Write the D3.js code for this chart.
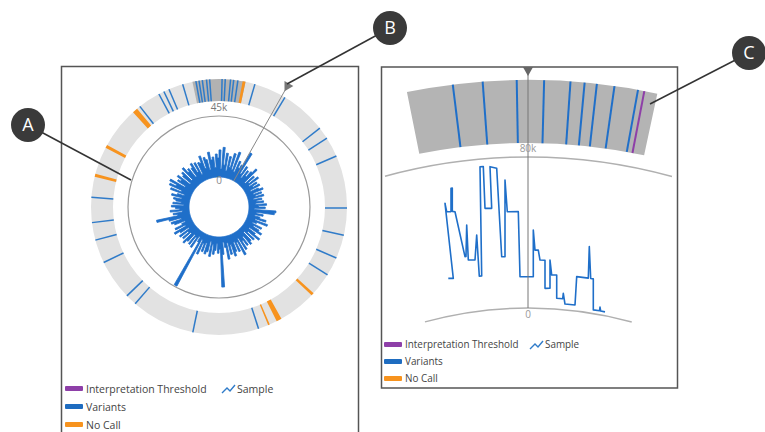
<!DOCTYPE html>
<html>
<head>
<meta charset="utf-8">
<script src="https://cdn.jsdelivr.net/npm/d3@7"></script>
<style>
  body { margin: 0; background: #fff; }
  svg { font-family: "Open Sans", sans-serif; }
</style>
</head>
<body>
<svg id="chart" width="765" height="432"></svg>
<script>
// circular (whole genome) view
const genomeLength = 16569;
const coverage = [
  20, 6, 22, 9, 18, 5, 16, 8, 19, 7,
  21, 6, 15, 10, 13, 24, 7, 14, 5, 12,
  8, 13, 17, 4, 12, 6, 14, 5, 11, 7,
  12, 4, 10, 13, 5, 11, 6, 12, 4, 10,
  6, 11, 5, 13, 7, 12, 4, 20, 19, 6,
  11, 5, 9, 14, 6, 16, 8, 5, 13, 7,
  12, 15, 5, 11, 16, 6, 13, 4, 12, 14,
  6, 13, 8, 15, 5, 18, 7, 14, 6, 13,
  16, 7, 14, 5, 17, 8, 4, 13, 37, 9,
  12, 5, 10, 13, 6, 15, 4, 12, 14, 6,
  13, 7, 16, 5, 44, 8, 4, 14, 6, 13,
  5, 12, 15, 6, 13, 7, 14, 5, 12, 16,
  6, 14, 8, 5, 13, 15, 7, 16, 25, 9,
  12, 5, 14, 7, 10, 13, 4, 12, 6, 10,
  12, 6, 14, 10, 5, 16, 8, 18, 13, 19,
  7, 14, 12, 16, 5, 13, 15, 6, 17, 12,
  14, 6, 13, 16, 8, 15, 5, 14, 13, 18,
  8, 16, 14, 6, 19, 13, 15, 7, 17, 14
];
const variantPos = [
  64, 129, 239, 304, 391, 750, 1427, 2393, 2646, 3061, 4165, 4731, 5224,
  5615, 7456, 8828, 10167, 10402, 11244, 11736, 12104, 12629, 14811,
  15280, 15395, 15510, 15810, 16090, 16155, 16224, 16311, 16376
];
const noCallPos = [520, 6121, 6996, 7226, 13089, 13729, 14682];
const noCallLen = [60, 60, 110, 35, 65, 65, 110];
const zoomRegion = [16017, 552];
const cursorPos = 1358;
const circleMax = 45;
const circleLabels = ["0", "45k"];

// zoomed view (positions in window units)
const zoomRing = [-34.8, 202.6];
const zoomAxisSpan = [-63, 224];
const zoomVariantPos = [8.7, 37, 69.3, 95.3, 120.3, 133.7, 145.3, 162, 184.3];
const zoomThresholdPos = [190.3];
const zoomCursor = 80;
const zoomMax = 80;
const zoomLabels = ["0", "80k"];
const samplePos = [
  0.3, 5.3, -3, -1.3, 3, 3, 4.3, 4.3, 7, 17, 18, 18.7, 20.3, 27, 28.7,
  31.3, 33.7, 32, 35.3, 37, 43.7, 42, 48.7, 53.7, 57, 57, 59.3, 70.3,
  72, 85.3, 85.3, 87, 90.3, 92, 97, 97, 102, 102, 103.7, 108.7, 108.7,
  114.7, 115.3, 117, 127, 128.7, 140.3, 141.3, 142.7, 145.3, 145.3,
  151.5, 152, 152.7, 157
];
const sampleVal = [
  19.7, 19.2, 59.1, 54.6, 54.3, 66.5, 66.5, 54.3, 53.9, 29.6, 29.6, 46.1, 27.6, 27.1, 40.2,
  18.4, 18.3, 76, 75.9, 53.8, 53.5, 75.6, 74.5, 27.6, 27.5, 68.1, 51.2, 51.1,
  16.6, 16.6, 41.3, 30.7, 30.7, 25.5, 25.5, 10.6, 10.8, 25.7, 17.8, 18, 5.7,
  5.7, 8.6, 3, 3.1, 18.1, 18.1, 34.7, 18.1, 18.1, 1.9,
  2, 4, 2, 2
];

const legendItems = ["Interpretation Threshold", "Variants", "No Call"];
const legendColors = ["#8e3fa8", "#1e6cc0", "#f7931e"];

const TAU = 2 * Math.PI;
const deg = Math.PI / 180;
const svg = d3.select("#chart");

// ---------- panel frames ----------
svg.append("rect")
  .attr("x", 61.5).attr("y", 66.5).attr("width", 297).attr("height", 380)
  .attr("fill", "none").attr("stroke", "#555").attr("stroke-width", 1.5);
svg.append("rect")
  .attr("x", 381.5).attr("y", 67).attr("width", 296).attr("height", 321)
  .attr("fill", "none").attr("stroke", "#555").attr("stroke-width", 1.5);

// ---------- left: circular view ----------
const left = svg.append("g").attr("transform", "translate(219,207)");
const angle = d3.scaleLinear().domain([0, genomeLength]).range([0, TAU]);
const radius = d3.scaleLinear().domain([0, circleMax]).range([30, 91]);
const ringIn = 106, ringOut = 128;

left.append("path")
  .attr("d", d3.arc()({ innerRadius: ringIn, outerRadius: ringOut, startAngle: 0, endAngle: TAU }))
  .attr("fill", "#e2e2e2");
left.append("path")
  .attr("d", d3.arc()({
    innerRadius: ringIn, outerRadius: ringOut,
    startAngle: angle(zoomRegion[0]) - TAU, endAngle: angle(zoomRegion[1])
  }))
  .attr("fill", "#b2b2b2");

left.selectAll(".variant")
  .data(variantPos)
  .enter()
  .append("line")
  .attr("class", "variant")
  .attr("x1", (d) => d3.pointRadial(angle(d), ringIn)[0])
  .attr("y1", (d) => d3.pointRadial(angle(d), ringIn)[1])
  .attr("x2", (d) => d3.pointRadial(angle(d), ringOut)[0])
  .attr("y2", (d) => d3.pointRadial(angle(d), ringOut)[1])
  .attr("stroke", "#2f7bc9")
  .attr("stroke-width", 1.5);

left.selectAll(".nocall")
  .data(noCallPos)
  .enter()
  .append("path")
  .attr("class", "nocall")
  .attr("d", (d, i) => d3.arc()({
    innerRadius: ringIn, outerRadius: ringOut,
    startAngle: angle(d - noCallLen[i] / 2), endAngle: angle(d + noCallLen[i] / 2)
  }))
  .attr("fill", "#f7931e");

left.append("circle")
  .attr("r", radius(circleMax))
  .attr("fill", "none")
  .attr("stroke", "#9a9a9a")
  .attr("stroke-width", 1.2);

// coverage as a stepped radial area from the zero circle
const bin = genomeLength / coverage.length;
const covPoints = [];
coverage.forEach((v, i) => {
  covPoints.push([angle(i * bin), v]);
  covPoints.push([angle((i + 1) * bin), v]);
});
left.append("path")
  .attr("d", d3.areaRadial()
    .angle((d) => d[0])
    .innerRadius(radius(0))
    .outerRadius((d) => radius(d[1]))
    .curve(d3.curveLinearClosed)(covPoints))
  .attr("fill", "#1f6fc9")
  .attr("stroke", "#1f6fc9")
  .attr("stroke-width", 0.8)
  .attr("stroke-linejoin", "round");

const ca = angle(cursorPos);
left.append("line")
  .attr("x1", d3.pointRadial(ca, radius(0))[0])
  .attr("y1", d3.pointRadial(ca, radius(0))[1])
  .attr("x2", d3.pointRadial(ca, 136)[0])
  .attr("y2", d3.pointRadial(ca, 136)[1])
  .attr("stroke", "#888")
  .attr("stroke-width", 1);
left.append("path")
  .attr("d", d3.symbol(d3.symbolTriangle, 45)())
  .attr("transform", "translate(" + d3.pointRadial(ca, 139) + ") rotate(" + (ca / deg + 180) + ")")
  .attr("fill", "#777");

left.append("text")
  .attr("x", 0).attr("y", -radius(0) + 7)
  .attr("text-anchor", "middle").attr("font-size", 10).attr("fill", "#888")
  .text(circleLabels[0]);
left.append("text")
  .attr("x", 0).attr("y", -radius(circleMax) - 5)
  .attr("text-anchor", "middle").attr("font-size", 10).attr("fill", "#777")
  .text(circleLabels[1]);

// ---------- right: zoomed view ----------
const right = svg.append("g").attr("transform", "translate(528,697)");
const zX = d3.scaleLinear().domain([0, 160]).range([-80, 80]);
const zRadius = d3.scaleLinear().domain([0, zoomMax]).range([389, 540]);
const zIn = 554, zOut = 617, zMid = 585;
const zAngle = (p) => Math.asin(zX(p) / zMid);
const zPoint = (p, v) => {
  const x = zX(p), r = zRadius(v);
  return [x, -Math.sqrt(r * r - x * x)];
};

right.append("path")
  .attr("d", d3.arc()({ innerRadius: zIn, outerRadius: zOut, startAngle: zAngle(zoomRing[0]), endAngle: zAngle(zoomRing[1]) }))
  .attr("fill", "#b4b4b4");

const zTick = (sel, data, color, cls) =>
  sel.selectAll("." + cls)
    .data(data)
    .enter()
    .append("line")
    .attr("class", cls)
    .attr("x1", (d) => d3.pointRadial(zAngle(d), zIn)[0])
    .attr("y1", (d) => d3.pointRadial(zAngle(d), zIn)[1])
    .attr("x2", (d) => d3.pointRadial(zAngle(d), zOut)[0])
    .attr("y2", (d) => d3.pointRadial(zAngle(d), zOut)[1])
    .attr("stroke", color)
    .attr("stroke-width", 2);
zTick(right, zoomVariantPos, "#1f6fc9", "zvariant");
zTick(right, zoomThresholdPos, "#8e3fa8", "zthreshold");

right.selectAll(".zaxis")
  .data([0, zoomMax])
  .enter()
  .append("path")
  .attr("class", "zaxis")
  .attr("d", (d) => d3.arc()({
    innerRadius: zRadius(d), outerRadius: zRadius(d),
    startAngle: Math.asin(zX(zoomAxisSpan[0]) / zRadius(zoomMax)),
    endAngle: Math.asin(zX(zoomAxisSpan[1]) / zRadius(zoomMax))
  }))
  .attr("fill", "none")
  .attr("stroke", "#b0b0b0")
  .attr("stroke-width", 1.5);

right.append("path")
  .attr("d", d3.line()(samplePos.map((p, i) => zPoint(p, sampleVal[i]))))
  .attr("fill", "none")
  .attr("stroke", "#1f6fc9")
  .attr("stroke-width", 1.6)
  .attr("stroke-linejoin", "round");

const za = zAngle(zoomCursor);
right.append("line")
  .attr("x1", d3.pointRadial(za, zRadius(0))[0])
  .attr("y1", d3.pointRadial(za, zRadius(0))[1])
  .attr("x2", d3.pointRadial(za, 624)[0])
  .attr("y2", d3.pointRadial(za, 624)[1])
  .attr("stroke", "#777")
  .attr("stroke-width", 1);
right.append("path")
  .attr("d", d3.symbol(d3.symbolTriangle, 45)())
  .attr("transform", "translate(" + d3.pointRadial(za, 627) + ") rotate(180)")
  .attr("fill", "#666");

right.append("text")
  .attr("x", 0).attr("y", -zRadius(0) + 10)
  .attr("text-anchor", "middle").attr("font-size", 10).attr("fill", "#999")
  .text(zoomLabels[0]);
right.append("text")
  .attr("x", 0).attr("y", -zRadius(zoomMax) - 5)
  .attr("text-anchor", "middle").attr("font-size", 10).attr("fill", "#999")
  .text(zoomLabels[1]);

// ---------- legends ----------
const drawLegend = (x, y, gap, sampleX, size) => {
  const g = svg.append("g").attr("transform", "translate(" + x + "," + y + ")");
  const item = g.selectAll("g")
    .data(legendItems)
    .enter()
    .append("g")
    .attr("transform", (d, i) => "translate(0," + i * gap + ")");
  item.append("rect")
    .attr("x", 0).attr("y", -3).attr("width", 18).attr("height", 5).attr("rx", 1)
    .attr("fill", (d, i) => legendColors[i]);
  item.append("text")
    .attr("x", 21).attr("y", 0).attr("dy", "0.35em")
    .attr("font-size", size).attr("fill", "#444")
    .text((d) => d);
  g.append("path")
    .attr("d", "M" + sampleX + ",4 L" + (sampleX + 5) + ",-1 L" + (sampleX + 8) + ",2 L" + (sampleX + 13) + ",-4")
    .attr("fill", "none").attr("stroke", "#2f7bc9").attr("stroke-width", 1.4);
  g.append("text")
    .attr("x", sampleX + 15).attr("y", 0).attr("dy", "0.35em")
    .attr("font-size", size).attr("fill", "#444")
    .text("Sample");
};
drawLegend(65, 389, 18, 157, 10.5);
drawLegend(384, 345, 17, 146, 9.9);

// ---------- annotations ----------
const notes = [
  { label: "A", cx: 28, cy: 125, tx: 131, ty: 180 },
  { label: "B", cx: 390, cy: 28, tx: 287, ty: 84 },
  { label: "C", cx: 749, cy: 53, tx: 650, ty: 104 }
];
svg.selectAll(".note-line")
  .data(notes)
  .enter()
  .append("line")
  .attr("class", "note-line")
  .attr("x1", (d) => d.cx).attr("y1", (d) => d.cy)
  .attr("x2", (d) => d.tx).attr("y2", (d) => d.ty)
  .attr("stroke", "#333").attr("stroke-width", 1.5);
const note = svg.selectAll(".note")
  .data(notes)
  .enter()
  .append("g")
  .attr("class", "note")
  .attr("transform", (d) => "translate(" + d.cx + "," + d.cy + ")");
note.append("circle").attr("r", 17).attr("fill", "#3a3a3a");
note.append("text")
  .attr("text-anchor", "middle").attr("dy", "0.36em")
  .attr("font-size", 18).attr("fill", "#fff")
  .text((d) => d.label);
</script>
</body>
</html>
